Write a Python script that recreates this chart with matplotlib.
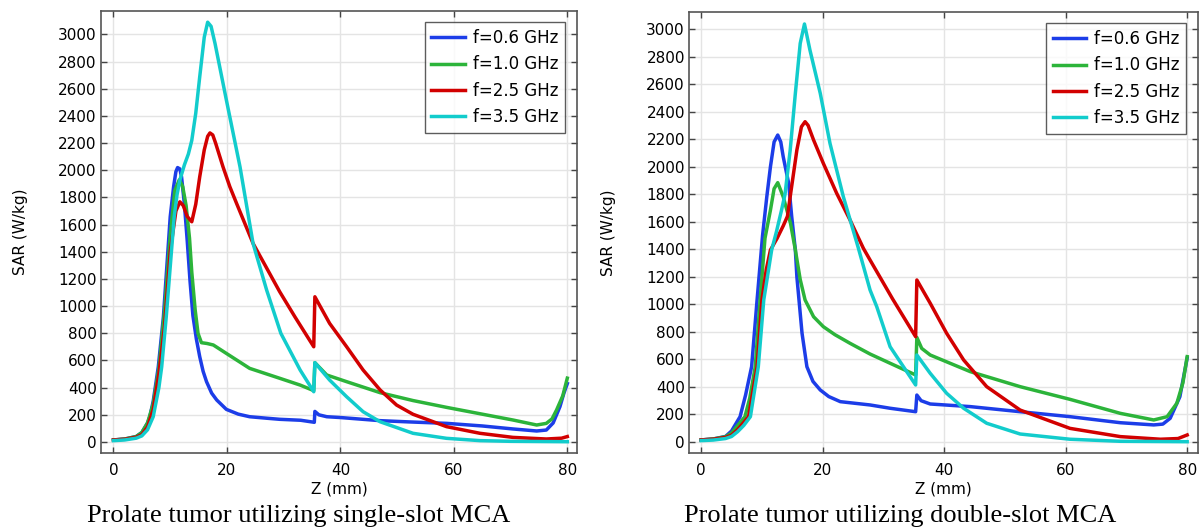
import matplotlib
matplotlib.use("Agg")
import matplotlib.pyplot as plt

# ---- data (z in mm, SAR in W/kg) ----
labels = ["f=0.6 GHz", "f=1.0 GHz", "f=2.5 GHz", "f=3.5 GHz"]
colors = ["#1c3de8", "#2cb43a", "#d20000", "#12cccc"]

# single-slot MCA
z_s06 = [0, 2, 4, 5, 6, 6.4, 7, 7.9, 8.8, 9.4, 10, 10.6, 11.0, 11.3, 11.7, 12.0, 12.5, 13.0, 13.5, 14.0, 14.6,
         15.2, 15.8, 16.4, 17.3, 18.2, 19.9, 22, 24, 27, 29.3, 33, 35.4, 35.5, 36.2, 37.6, 40, 47, 52, 58.8, 65,
         70.4, 74.6, 76.3, 77.5, 78.7, 79.4, 80]
s_s06 = [15, 22, 40, 70, 140, 186, 300, 554, 922, 1290, 1658, 1880, 1990, 2020, 2010, 1950, 1750, 1480, 1180, 930, 760,
         628, 520, 444, 360, 309, 240, 205, 186, 175, 167, 160, 145, 225, 200, 186, 180, 157, 148, 137, 118,
         96, 81, 88, 140, 260, 360, 430]

z_s10 = [0, 2, 4, 5, 6, 7, 8, 9, 10, 10.8, 11.6, 12.2, 12.8, 13.4, 13.8, 14.4, 14.9, 15.5, 16.5, 17.6, 19.9,
         24, 29.3, 32.9, 35.3, 35.5, 37.6, 41.1, 47, 52.8, 58.7, 64.6, 70.4, 74.6, 76.3, 77.3, 78.1, 79.2, 80]
s_s10 = [15, 22, 40, 70, 140, 280, 540, 960, 1520, 1850, 1930, 1880, 1740, 1500, 1250, 971, 800, 731, 725, 714, 652,
         542, 469, 419, 378, 584, 493, 444, 363, 305, 255, 208, 162, 125, 137, 170, 235, 340, 470]

z_s25 = [0, 2, 4, 5, 6, 7, 8, 9, 10, 11, 11.7, 12.3, 13, 13.8, 14.5, 15.2, 16, 16.6, 17, 17.5, 18, 19.3, 20.5,
         21.7, 24.6, 29.3, 32, 35.3, 35.5, 38.1, 41.1, 44, 47, 49.9, 52.8, 58.7, 64.6, 70.4, 76.3, 79, 80]
s_s25 = [15, 20, 35, 55, 110, 240, 500, 850, 1400, 1700, 1768, 1740, 1660, 1621, 1750, 1952, 2150, 2250, 2275, 2260,
         2200, 2026, 1880, 1756, 1462, 1106, 920, 701, 1069, 873, 701, 530, 383, 272, 204, 113, 64, 34, 22, 28, 40]

z_s35 = [0, 2, 4, 5, 6, 7, 8, 8.5, 9.3, 10, 10.7, 11.2, 11.7, 12.5, 13.2, 13.8, 14.5, 15.2, 16, 16.6, 17.2,
         17.9, 19.9, 22.3, 24.6, 27, 29.5, 32.9, 35.3, 35.5, 38.1, 41.1, 44, 47, 52.8, 58.7, 64.6, 70, 80]
s_s35 = [10, 15, 28, 45, 90, 186, 400, 554, 922, 1290, 1658, 1820, 1928, 2040, 2120, 2220, 2420, 2688, 2980, 3090,
         3060, 2933, 2517, 2026, 1462, 1118, 800, 530, 370, 584, 456, 333, 223, 149, 64, 27, 10, 5, 2]

# double-slot MCA
z_d06 = [0, 2, 4, 5, 6.4, 7.3, 8.3, 9.2, 10.1, 10.8, 11.4, 12.0, 12.6, 13.1, 13.5, 14.4, 14.9, 15.5, 15.75,
         16.6, 17.4, 18.4, 19.6, 21, 22.9, 27.8, 31.1, 35.3, 35.5, 36.2, 37.7, 44.3, 52.5, 60.7, 69, 74.5,
         76, 77.2, 78.8, 80]
s_d06 = [15, 22, 40, 80, 184, 340, 547, 1032, 1500, 1782, 2000, 2180, 2230, 2180, 2073, 1879, 1637, 1395, 1201,
         790, 547, 440, 378, 330, 293, 269, 245, 220, 341, 300, 276, 257, 220, 184, 140, 124,
         130, 172, 329, 610]

z_d10 = [0, 2, 4, 5, 6, 7.2, 8.0, 8.9, 9.7, 10.5, 11.4, 12.0, 12.6, 13.5, 14.7, 15.5, 16.3, 17.1, 18.5, 20.1,
         22, 24.5, 27.8, 31.1, 35.3, 35.5, 36.3, 37.7, 44.3, 52.5, 60.7, 69, 74.5, 76.7, 78.3, 79.3, 80]
s_d10 = [15, 22, 38, 65, 120, 184, 320, 547, 1032, 1480, 1685, 1840, 1884, 1782, 1589, 1395, 1180, 1032, 910, 838,
         780, 717, 639, 572, 487, 760, 680, 632, 511, 402, 310, 208, 160, 184, 281, 430, 620]

z_d25 = [0, 2, 4, 5, 6, 7.8, 9.2, 10, 10.7, 11.4, 12.5, 13.5, 14.2, 14.65, 15.75, 16.5, 17.1, 17.6, 18.5, 20.1,
         22.3, 24.5, 26.7, 27.8, 31.5, 35.3, 35.5, 37.7, 40.4, 43.2, 47, 52.5, 60.7, 69, 75.6, 78.5, 80]
s_d25 = [15, 20, 33, 50, 90, 184, 547, 1032, 1250, 1395, 1480, 1570, 1640, 1782, 2121, 2290, 2327, 2300, 2194, 2025,
         1807, 1613, 1407, 1322, 1040, 765, 1177, 1008, 790, 596, 402, 232, 99, 39, 20, 25, 51]

z_d35 = [0, 2, 4, 5, 6, 7, 8.1, 9.4, 10.3, 11.6, 12.4, 13.2, 13.8, 14.65, 15.5, 16.3, 17.0, 17.9, 19.6, 21.2,
         23.4, 25.8, 27.8, 28.9, 31.1, 35.3, 35.5, 37.7, 40.4, 43.2, 47, 52.5, 60.7, 69, 80]
s_d35 = [10, 14, 25, 40, 75, 120, 184, 547, 1032, 1395, 1530, 1680, 1800, 2121, 2533, 2896, 3037, 2848, 2533, 2170,
         1782, 1420, 1104, 983, 692, 414, 632, 499, 354, 245, 136, 58, 20, 5, 2]

single = [(z_s06, s_s06), (z_s10, s_s10), (z_s25, s_s25), (z_s35, s_s35)]
double = [(z_d06, s_d06), (z_d10, s_d10), (z_d25, s_d25), (z_d35, s_d35)]
captions = ["Prolate tumor utilizing single-slot MCA", "Prolate tumor utilizing double-slot MCA"]

fig = plt.figure(figsize=(12.04, 5.31), dpi=100)
ax1 = fig.add_axes([0.0839, 0.1469, 0.3953, 0.833])
ax2 = fig.add_axes([0.5723, 0.1469, 0.4228, 0.831])

def draw(ax, curves, xlim, ylim, caption, cap_x):
    for (z, s), lab, c in zip(curves, labels, colors):
        ax.plot(z, s, color=c, lw=2.5, label=lab, solid_joinstyle="round")
    ax.set_xlim(*xlim)
    ax.set_ylim(*ylim)
    ax.set_xticks([0, 20, 40, 60, 80])
    ax.set_yticks(range(0, 3001, 200))
    ax.grid(True, color="#e4e4e4", lw=1.0)
    ax.set_axisbelow(True)
    ax.tick_params(direction="in", top=True, right=True, labelsize=11, length=4,
                   width=1.0, color="#444444", pad=3)
    ax.tick_params(axis="x", pad=7)
    for sp in ax.spines.values():
        sp.set_color("#555555")
        sp.set_linewidth(1.2)
    ax.set_xlabel("Z (mm)", fontsize=11, labelpad=3)
    ax.set_ylabel("SAR (W/kg)", fontsize=11, labelpad=22)
    leg = ax.legend(loc="upper right", fontsize=12, frameon=True, fancybox=False,
                    handlelength=2.0, labelspacing=0.5, borderaxespad=0.7,
                    handletextpad=0.5, borderpad=0.4)
    leg.get_frame().set_edgecolor("#333333")
    leg.get_frame().set_linewidth(1.0)
    # caption under the axes
    fig.text(cap_x, 0.028, caption, ha="center", va="center",
             fontsize=19, family=["Liberation Serif", "DejaVu Serif"])

draw(ax1, single, (-2.2, 81.7), (-81, 3175), captions[0], 0.248)
draw(ax2, double, (-2.0, 81.8), (-80, 3126), captions[1], 0.748)

fig.savefig("out.png", dpi=100)
